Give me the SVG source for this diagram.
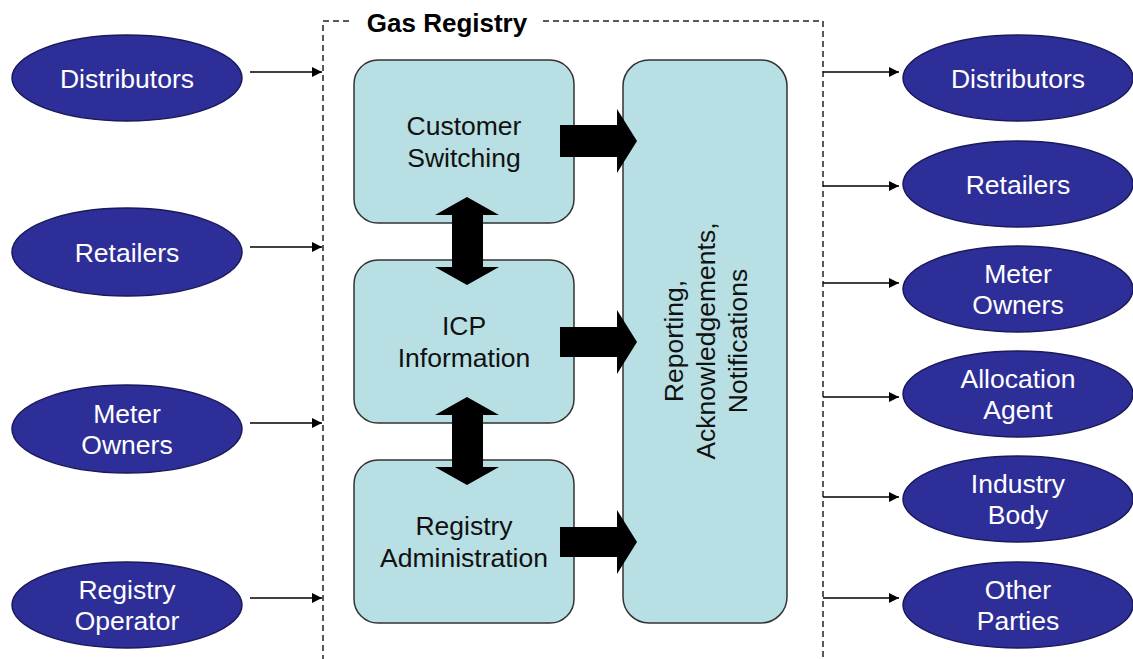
<svg xmlns="http://www.w3.org/2000/svg" width="1133" height="659" viewBox="0 0 1133 659">
<defs>
<style>
.ell{fill:#2e2e98;stroke:#1a1a5a;stroke-width:1.5}
.et{fill:#ffffff;font-family:"Liberation Sans",Arial,sans-serif;font-size:26.5px;text-anchor:middle}
.box{fill:#b8dfe3;stroke:#333333;stroke-width:1.5}
.bt{fill:#111111;font-family:"Liberation Sans",Arial,sans-serif;font-size:26.5px;text-anchor:middle}
.thin{stroke:#000;stroke-width:1.7;fill:none;marker-end:url(#ah)}
.blk{fill:#000}
.dash{fill:none;stroke:#222;stroke-width:1.5;stroke-dasharray:6,4}
</style>
<marker id="ah" viewBox="0 0 10 10" refX="10" refY="5" markerWidth="10" markerHeight="10" markerUnits="userSpaceOnUse" orient="auto">
<path d="M0,0 L10,5 L0,10 Z" fill="#000"/>
</marker>
</defs>
<rect width="1133" height="659" fill="#ffffff"/>

<g id="gas-registry">
<path class="dash" d="M349,21 H323 V659"/>
<path class="dash" d="M543,21 H823 V659"/>
<text x="447" y="32" font-family="'Liberation Sans',Arial,sans-serif" font-size="26" font-weight="bold" text-anchor="middle" fill="#000">Gas Registry</text>
</g>

<g id="connectors">
<line class="thin" x1="250" y1="72" x2="322" y2="72"/>
<line class="thin" x1="250" y1="247" x2="322" y2="247"/>
<line class="thin" x1="250" y1="423" x2="322" y2="423"/>
<line class="thin" x1="250" y1="598" x2="322" y2="598"/>
<line class="thin" x1="823" y1="72" x2="899" y2="72"/>
<line class="thin" x1="823" y1="186" x2="899" y2="186"/>
<line class="thin" x1="823" y1="283" x2="899" y2="283"/>
<line class="thin" x1="823" y1="397" x2="899" y2="397"/>
<line class="thin" x1="823" y1="497" x2="899" y2="497"/>
<line class="thin" x1="823" y1="598" x2="899" y2="598"/>
</g>

<g id="left-distributors"><ellipse class="ell" cx="127" cy="78" rx="115" ry="43"/><text class="et" x="127" y="88">Distributors</text></g>
<g id="left-retailers"><ellipse class="ell" cx="127" cy="252" rx="115" ry="44"/><text class="et" x="127" y="262">Retailers</text></g>
<g id="left-meter-owners"><ellipse class="ell" cx="127" cy="429" rx="115" ry="44"/><text class="et" x="127" y="423">Meter</text><text class="et" x="127" y="454">Owners</text></g>
<g id="left-registry-operator"><ellipse class="ell" cx="127" cy="605" rx="115" ry="43"/><text class="et" x="127" y="599">Registry</text><text class="et" x="127" y="630">Operator</text></g>

<g id="right-distributors"><ellipse class="ell" cx="1018" cy="78" rx="115" ry="43"/><text class="et" x="1018" y="88">Distributors</text></g>
<g id="right-retailers"><ellipse class="ell" cx="1018" cy="184" rx="115" ry="43"/><text class="et" x="1018" y="194">Retailers</text></g>
<g id="right-meter-owners"><ellipse class="ell" cx="1018" cy="289" rx="115" ry="43"/><text class="et" x="1018" y="283">Meter</text><text class="et" x="1018" y="314">Owners</text></g>
<g id="right-allocation-agent"><ellipse class="ell" cx="1018" cy="394" rx="115" ry="43"/><text class="et" x="1018" y="388">Allocation</text><text class="et" x="1018" y="419">Agent</text></g>
<g id="right-industry-body"><ellipse class="ell" cx="1018" cy="499" rx="115" ry="43"/><text class="et" x="1018" y="493">Industry</text><text class="et" x="1018" y="524">Body</text></g>
<g id="right-other-parties"><ellipse class="ell" cx="1018" cy="605" rx="115" ry="43"/><text class="et" x="1018" y="599">Other</text><text class="et" x="1018" y="630">Parties</text></g>

<g id="customer-switching"><rect class="box" x="354" y="60" width="220" height="163" rx="24"/><text class="bt" x="464" y="135">Customer</text><text class="bt" x="464" y="167">Switching</text></g>
<g id="icp-information"><rect class="box" x="354" y="260" width="220" height="163" rx="24"/><text class="bt" x="464" y="335">ICP</text><text class="bt" x="464" y="367">Information</text></g>
<g id="registry-administration"><rect class="box" x="354" y="460" width="220" height="163" rx="24"/><text class="bt" x="464" y="535">Registry</text><text class="bt" x="464" y="567">Administration</text></g>
<g id="reporting"><rect class="box" x="623" y="60" width="164" height="563" rx="26"/>
<text class="bt" transform="translate(683,341) rotate(-90)" x="0" y="0">Reporting,</text>
<text class="bt" transform="translate(715,341) rotate(-90)" x="0" y="0">Acknowledgements,</text>
<text class="bt" transform="translate(747,341) rotate(-90)" x="0" y="0">Notifications</text>
</g>

<g id="block-arrows">
<path class="blk" d="M560,125 H617 V109 L637,141 L617,173 V157 H560 Z"/>
<path class="blk" d="M560,327 H617 V310 L637,342 L617,374 V357 H560 Z"/>
<path class="blk" d="M560,527 H617 V510 L637,542 L617,574 V557 H560 Z"/>
<path class="blk" d="M467,197 L499,215 H483 V267 H499 L467,285 L435,267 H452 V215 H435 Z"/>
<path class="blk" d="M467,397 L499,415 H483 V467 H499 L467,485 L435,467 H452 V415 H435 Z"/>
</g>
</svg>
